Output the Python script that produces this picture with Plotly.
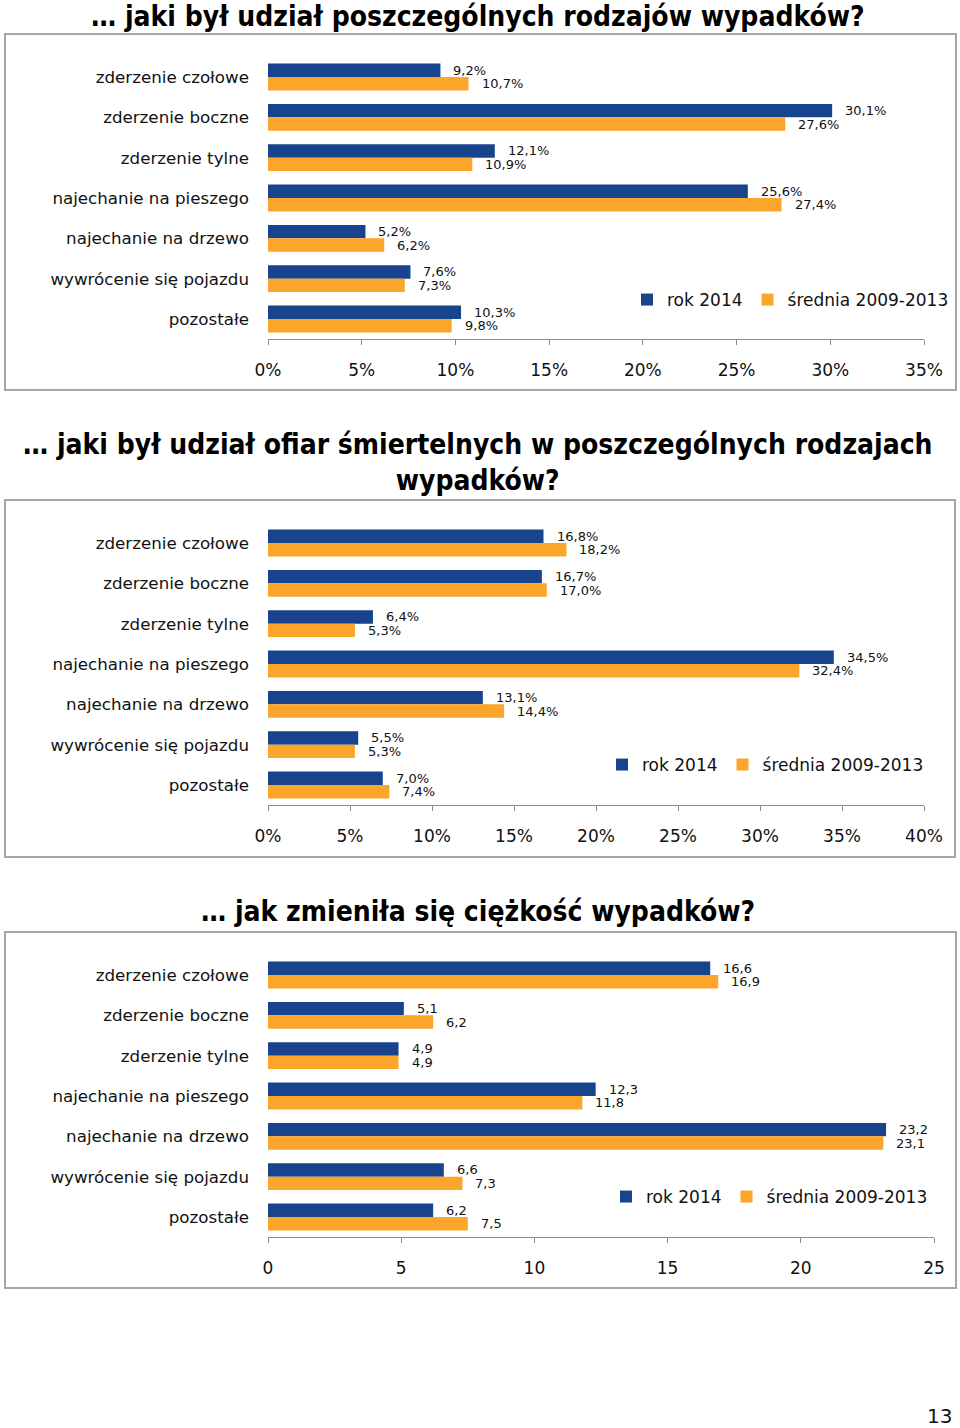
import plotly.graph_objects as go

W, H = 960, 1428

categories = ["zderzenie czołowe", "zderzenie boczne", "zderzenie tylne",
              "najechanie na pieszego", "najechanie na drzewo",
              "wywrócenie się pojazdu", "pozostałe"]
series_names = ["rok 2014", "średnia 2009-2013"]

# chart 1: share of accidents (%)
acc_2014 = [9.2, 30.1, 12.1, 25.6, 5.2, 7.6, 10.3]
acc_avg = [10.7, 27.6, 10.9, 27.4, 6.2, 7.3, 9.8]
# chart 2: share of fatalities (%)
fat_2014 = [16.8, 16.7, 6.4, 34.5, 13.1, 5.5, 7.0]
fat_avg = [18.2, 17.0, 5.3, 32.4, 14.4, 5.3, 7.4]
# chart 3: severity
sev_2014 = [16.6, 5.1, 4.9, 12.3, 23.2, 6.6, 6.2]
sev_avg = [16.9, 6.2, 4.9, 11.8, 23.1, 7.3, 7.5]

titles = ["… jaki był udział poszczególnych rodzajów wypadków?",
          "… jaki był udział ofiar śmiertelnych w poszczególnych rodzajach<br>wypadków?",
          "… jak zmieniła się ciężkość wypadków?"]

BLUE = "#17448C"
ORANGE = "#FBA52B"
FONT = "DejaVu Sans"
TXT = "#111111"
AXC = "#8C8C8C"


def px_y(p):
    return 1 - p / H


def px_x(p):
    return p / W


charts = [
    dict(b=acc_2014, o=acc_avg, rng=[0, 35], suffix="%", xdom=(268, 924),
         ydom=(56.8, 339.2), frame=(5, 34, 956, 390), title_y=17,
         leg=(641, 300)),
    dict(b=fat_2014, o=fat_avg, rng=[0, 40], suffix="%", xdom=(268, 924),
         ydom=(522.8, 805.2), frame=(5, 500, 955, 857), title_y=463,
         leg=(616, 765)),
    dict(b=sev_2014, o=sev_avg, rng=[0, 25], suffix="", xdom=(268, 934),
         ydom=(954.8, 1237.2), frame=(5, 932, 956, 1288), title_y=912,
         leg=(620, 1197)),
]

fig = go.Figure()
annotations = []
shapes = []
layout = dict(width=W, height=H,
              margin=dict(l=0, r=0, t=0, b=0, pad=0, autoexpand=False),
              autosize=False,
              plot_bgcolor="white", paper_bgcolor="white",
              barmode="group", bargap=0.335, bargroupgap=0,
              font=dict(family=FONT, color=TXT))


def fmt(v, suffix):
    return f"{v:.1f}".replace(".", ",") + suffix


for i, c in enumerate(charts):
    n = "" if i == 0 else str(i + 1)
    xa, ya = "x" + n, "y" + n
    leg = "legend" + n
    for vals, name, col, sh in [(c["b"], series_names[0], BLUE, 6.7),
                                (c["o"], series_names[1], ORANGE, -6.7)]:
        fig.add_trace(go.Bar(x=vals, y=categories, orientation="h", name=name,
                             marker=dict(color=col, line=dict(width=0)),
                             xaxis=xa, yaxis=ya, legend=leg, hoverinfo="x+y"))
        for v, cat in zip(vals, categories):
            annotations.append(dict(x=v, y=cat, xref=xa, yref=ya,
                                    text=fmt(v, c["suffix"]), showarrow=False,
                                    xanchor="left", yanchor="middle",
                                    xshift=11, yshift=sh,
                                    font=dict(size=13, color=TXT, family=FONT)))
    layout["xaxis" + n] = dict(domain=[px_x(c["xdom"][0]), px_x(c["xdom"][1])],
                               anchor=ya, range=c["rng"], dtick=5,
                               ticksuffix=c["suffix"], showgrid=False,
                               zeroline=False, showline=True, linecolor=AXC,
                               linewidth=1, ticks="outside", ticklen=5,
                               tickcolor=AXC, tickwidth=1, automargin=False,
                               tickfont=dict(size=17, color=TXT, family=FONT),
                               ticklabelstandoff=10, fixedrange=True)
    layout["yaxis" + n] = dict(domain=[px_y(c["ydom"][1]), px_y(c["ydom"][0])],
                               anchor=xa, autorange="reversed",
                               type="category", showgrid=False, zeroline=False,
                               showline=False, ticks="", automargin=False,
                               tickfont=dict(size=16.7, color=TXT, family=FONT),
                               ticklabelstandoff=18, fixedrange=True)
    layout[leg] = dict(orientation="h", x=px_x(c["leg"][0] - 14),
                       y=px_y(c["leg"][1]), xanchor="left", yanchor="middle",
                       font=dict(size=17, color=TXT, family=FONT),
                       bgcolor="rgba(0,0,0,0)", itemwidth=30,
                       traceorder="normal", itemclick=False,
                       itemdoubleclick=False)
    fx0, fy0, fx1, fy1 = c["frame"]
    shapes.append(dict(type="rect", xref="paper", yref="paper",
                       x0=px_x(fx0), x1=px_x(fx1), y0=px_y(fy1), y1=px_y(fy0),
                       line=dict(color="#A6A6A6", width=2), layer="below"))
    annotations.append(dict(text="<b>" + titles[i] + "</b>", xref="paper",
                            yref="paper", x=px_x(478), y=px_y(c["title_y"]),
                            xanchor="center", yanchor="middle",
                            showarrow=False, align="center",
                            font=dict(size=28, color="#000000",
                                      family="DejaVu Sans Condensed")))

annotations.append(dict(text="13", xref="paper", yref="paper", x=px_x(954),
                        y=px_y(1416), xanchor="right", yanchor="middle",
                        showarrow=False,
                        font=dict(size=20, color=TXT, family=FONT)))

layout["annotations"] = annotations
layout["shapes"] = shapes
fig.update_layout(**layout)
fig.write_html("out.html", config={"displayModeBar": False},
               post_script="document.body.style.margin='0';"
                           "document.body.style.overflow='hidden';")
